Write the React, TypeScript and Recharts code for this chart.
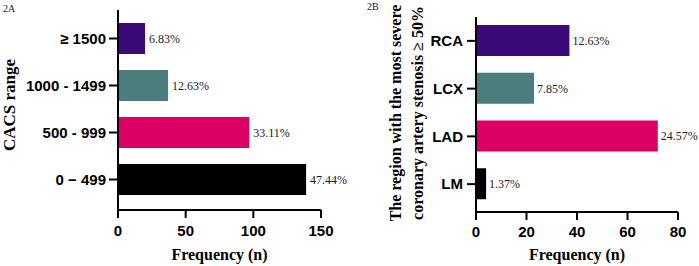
import { BarChart, Bar, XAxis, YAxis, Cell, LabelList, Label } from "recharts";

const cacsRanges = ["≥ 1500", "1000 - 1499", "500 - 999", "0 − 499"];
const cacsCounts = [20, 37, 97, 139];
const cacsPercents = ["6.83%", "12.63%", "33.11%", "47.44%"];
const cacsTicks = [0, 50, 100, 150];

const regionNames = ["RCA", "LCX", "LAD", "LM"];
const regionCounts = [37, 23, 72, 4];
const regionPercents = ["12.63%", "7.85%", "24.57%", "1.37%"];
const regionTicks = [0, 20, 40, 60, 80];

const barColors = ["#3a0a78", "#4a7d7b", "#dc0062", "#000000"];

const sans = "'Liberation Sans', Arial, sans-serif";
const serif = "'Liberation Serif', 'Times New Roman', serif";

const cacsData = cacsRanges.map((range, i) => ({
  range,
  count: cacsCounts[i],
  pct: cacsPercents[i],
}));

const regionData = regionNames.map((region, i) => ({
  region,
  count: regionCounts[i],
  pct: regionPercents[i],
}));

const axisStyle = { stroke: "#000", strokeWidth: 2 };
const xTick = { fontFamily: sans, fontSize: 15, fontWeight: "bold", fill: "#000" };
const yTick = { fontFamily: sans, fontSize: 15, fontWeight: "bold", fill: "#000" };
const pctStyle = { fontFamily: serif, fontSize: 12, fill: "#222" };

const titleA = () => (
  <g>
    <text x={3} y={12} fontFamily={serif} fontSize={10} fill="#222">2A</text>
    <text
      x={9}
      y={105}
      transform="rotate(-90 9 105)"
      textAnchor="middle"
      dominantBaseline="central"
      fontFamily={serif}
      fontSize={17}
      fontWeight="bold"
      fill="#000"
    >
      CACS range
    </text>
  </g>
);

const titleB = () => (
  <g>
    <text x={7} y={10} fontFamily={serif} fontSize={10} fill="#222">2B</text>
    <text
      transform="rotate(-90 35 113)"
      x={35}
      y={113}
      textAnchor="middle"
      dominantBaseline="central"
      fontFamily={serif}
      fontSize={16}
      fontWeight="bold"
      fill="#000"
    >
      The region with the most severe
    </text>
    <text
      transform="rotate(-90 57 113)"
      x={57}
      y={113}
      textAnchor="middle"
      dominantBaseline="central"
      fontFamily={serif}
      fontSize={16}
      fontWeight="bold"
      fill="#000"
    >
      coronary artery stenosis ≥ 50%
    </text>
  </g>
);

const freqTitle = (cx: number) => () => (
  <text
    x={cx}
    y={254}
    textAnchor="middle"
    dominantBaseline="central"
    fontFamily={serif}
    fontSize={16}
    fontWeight="bold"
    fill="#000"
  >
    Frequency (n)
  </text>
);

export default function App() {
  return (
    <div style={{ position: "absolute", left: 0, top: 0, width: 699, height: 266, background: "#fff" }}>
      <div style={{ position: "absolute", left: 0, top: 0 }}>
        <BarChart
          width={360}
          height={266}
          data={cacsData}
          layout="vertical"
          margin={{ top: 10, right: 39, bottom: 0, left: 0 }}
        >
          <XAxis
            type="number"
            domain={[0, 150]}
            ticks={cacsTicks}
            height={56}
            axisLine={axisStyle}
            tickLine={axisStyle}
            tickSize={8}
            tickMargin={7}
            tick={xTick}
          >
            <Label content={freqTitle(219.5)} />
          </XAxis>
          <YAxis
            type="category"
            dataKey="range"
            width={118}
            padding={{ top: 5, bottom: 7 }}
            axisLine={axisStyle}
            tickLine={axisStyle}
            tickSize={9}
            tickMargin={3}
            tick={yTick}
          >
            <Label content={titleA} />
          </YAxis>
          <Bar dataKey="count" barSize={31} isAnimationActive={false}>
            {cacsData.map((d, i) => (
              <Cell key={d.range} fill={barColors[i]} />
            ))}
            <LabelList dataKey="pct" position="right" offset={4} style={pctStyle} />
          </Bar>
        </BarChart>
      </div>
      <div style={{ position: "absolute", left: 360, top: 0 }}>
        <BarChart
          width={339}
          height={266}
          data={regionData}
          layout="vertical"
          margin={{ top: 17, right: 21, bottom: 0, left: 0 }}
        >
          <XAxis
            type="number"
            domain={[0, 80]}
            ticks={regionTicks}
            height={54}
            axisLine={axisStyle}
            tickLine={axisStyle}
            tickSize={8}
            tickMargin={6}
            tick={xTick}
          >
            <Label content={freqTitle(217)} />
          </XAxis>
          <YAxis
            type="category"
            dataKey="region"
            width={116}
            padding={{ top: 0, bottom: 4 }}
            axisLine={axisStyle}
            tickLine={axisStyle}
            tickSize={9}
            tickMargin={4}
            tick={yTick}
          >
            <Label content={titleB} />
          </YAxis>
          <Bar dataKey="count" barSize={31} isAnimationActive={false}>
            {regionData.map((d, i) => (
              <Cell key={d.region} fill={barColors[i]} />
            ))}
            <LabelList dataKey="pct" position="right" offset={3} style={pctStyle} />
          </Bar>
        </BarChart>
      </div>
    </div>
  );
}
